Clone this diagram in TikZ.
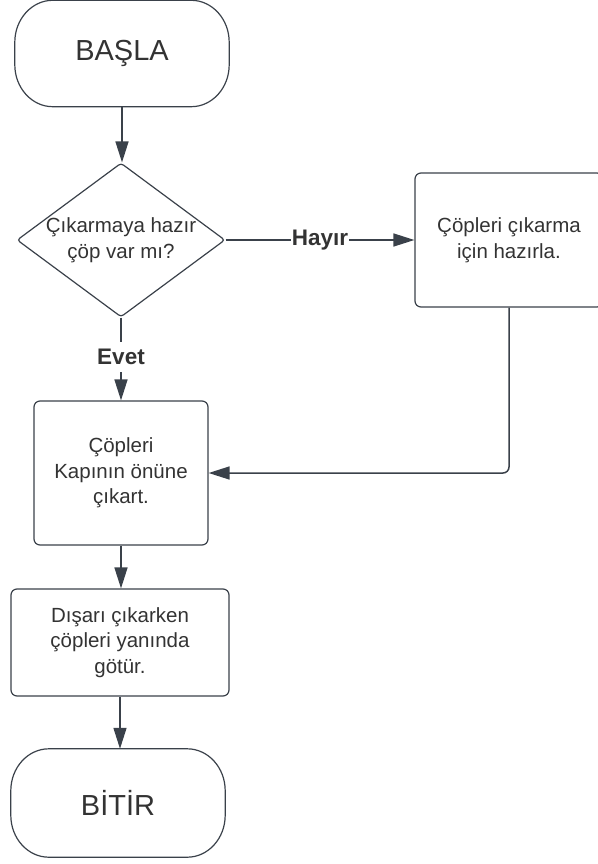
\documentclass[tikz,border=0pt]{standalone}
\usepackage{fontspec}
\setmainfont{Liberation Sans}
\usetikzlibrary{arrows.meta,shapes.geometric}
\definecolor{ln}{HTML}{3A414A}
\definecolor{tx}{HTML}{333333}
\tikzset{
 boxtext/.style={font=\fontsize{20.5}{25.5}\selectfont, text=tx, align=center},
 procbox/.style={boxtext, draw=ln, line width=1.2pt, rounded corners=6pt, inner sep=0pt},
 termbox/.style={font=\fontsize{29}{34}\selectfont, text=tx, inner sep=0pt},
 termline/.style={draw=ln, line width=1.2pt},
 decbox/.style={diamond, draw=ln, line width=1.2pt, rounded corners=3pt, inner sep=0pt, minimum width=208pt, minimum height=154pt},
 conn/.style={draw=ln, line width=1.5pt, -{Triangle[length=21pt,width=13pt]}},
 lbl/.style={font=\bfseries\fontsize{22.5}{27}\selectfont, text=tx, fill=white, inner xsep=1pt, inner ysep=7pt},
}
\newcommand{\drawterm}[1]{%
 \draw[termline] ([xshift=38pt]#1.north west) -- ([xshift=-38pt]#1.north east)
  arc[start angle=90,end angle=0,x radius=38pt,y radius=42pt]
  -- ([yshift=42pt]#1.south east)
  arc[start angle=0,end angle=-90,x radius=38pt,y radius=42pt]
  -- ([xshift=38pt]#1.south west)
  arc[start angle=270,end angle=180,x radius=38pt,y radius=42pt]
  -- ([yshift=-42pt]#1.north west)
  arc[start angle=180,end angle=90,x radius=38pt,y radius=42pt] -- cycle;}
\begin{document}
\begin{tikzpicture}[x=1pt,y=-1pt]
\useasboundingbox (0,0) rectangle (597,864);
% terminals
\node[termbox, minimum width=214pt, minimum height=106pt] (start) at (122,53.5) {BAŞLA};
\drawterm{start}
\node[termbox, minimum width=214pt, minimum height=108pt] (stop) at (118,803) {BİTİR};
\drawterm{stop}
% decision
\node[decbox] (dec) at (121,240) {};
\node[boxtext] (dectext) at (dec.center) {Çıkarmaya hazır\\çöp var mı?};
% process boxes
\node[procbox, minimum width=188pt, minimum height=134pt] (prep) at (509,240) {Çöpleri çıkarma\\için hazırla.};
\node[procbox, minimum width=174pt, minimum height=144pt] (act) at (121,473) {Çöpleri\\Kapının önüne\\çıkart.};
\node[procbox, minimum width=218pt, minimum height=107pt] (carry) at (120,642.5) {Dışarı çıkarken\\çöpleri yanında\\götür.};
% connectors
\draw[conn] (start.south) -- (start.south |- dec.north);
\draw[conn] (dec.east) -- node[lbl, pos=0.5] {Hayır} (prep.west);
\draw[conn] (dec.south) -- node[lbl, pos=0.48] {Evet} (dec.south |- act.north);
\draw[conn, rounded corners=6pt] (prep.south) |- (act.east);
\draw[conn] (act.south) -- (act.south |- carry.north);
\draw[conn] (carry.south) -- (carry.south |- stop.north);
\end{tikzpicture}
\end{document}
